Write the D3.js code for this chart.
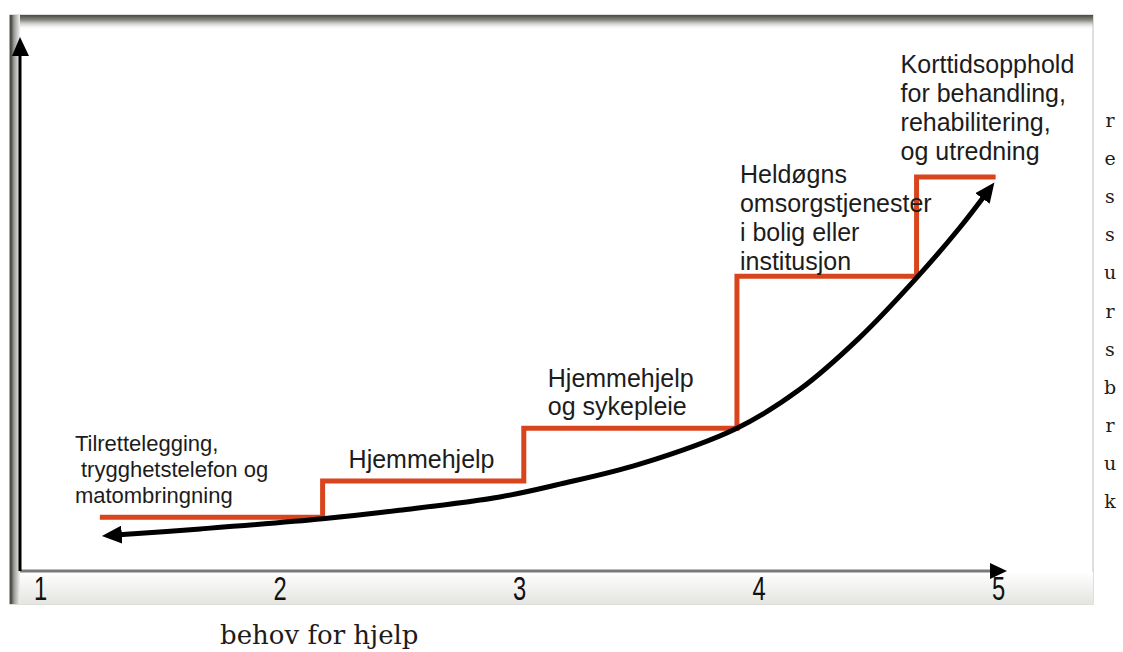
<!DOCTYPE html>
<html>
<head>
<meta charset="utf-8">
<script src="https://cdn.jsdelivr.net/npm/d3@7"></script>
<style>
  body { margin: 0; background: #ffffff; }
</style>
</head>
<body>
<div id="chart"></div>
<script>
const svgWidth = 1123;
const svgHeight = 652;
const sansFont = "'Liberation Sans', Arial, sans-serif";
const serifFont = "'DejaVu Serif', serif";

// tick labels on the "behov for hjelp" axis
const xTicks = [1, 2, 3, 4, 5];

// staircase: where each service level starts, and its resource level
const stepX = [1.25, 2.18, 3.02, 3.91, 4.66, 4.99];
const stepLevel = [10.1, 16.9, 26.8, 55.3, 73.9, 73.9];

// black need/resource curve
const curveX = [1.30, 1.67, 2.18, 2.50, 2.92, 3.17, 3.50, 3.91, 4.17, 4.42, 4.66, 4.84, 4.96];
const curveY = [6.7, 7.9, 9.8, 11.4, 13.9, 16.3, 20.0, 26.8, 34.0, 43.7, 55.0, 64.4, 71.4];

// service labels, one per step
const stepLabels = [
    ["Tilrettelegging,", " trygghetstelefon og", "matombringning"],
    ["Hjemmehjelp"],
    ["Hjemmehjelp", "og sykepleie"],
    ["Heldøgns", "omsorgstjenester", "i bolig eller", "institusjon"],
    ["Korttidsopphold", "for behandling,", "rehabilitering,", "og utredning"]
];
const xTitle = "behov for hjelp";
const yTitle = "ressursbruk";

// label layout (pixel offsets from the step start)
const labelDx = [-25, 26, 24, 3, -16];
const labelDy = [-14, -13, -13, -6, -17];
const labelSize = [22, 25, 25, 25, 25];
const labelLead = [26, 29, 28, 29, 29];

const xScale = d3.scaleLinear().domain([1, 5]).range([40, 998]);
const yScale = d3.scaleLinear().domain([0, 100]).range([571, 38]);

const svg = d3.select("#chart")
    .append("svg")
    .attr("width", svgWidth)
    .attr("height", svgHeight);

const defs = svg.append("defs");

function gradient(id, x2, y2, stops) {
    const g = defs.append("linearGradient")
        .attr("id", id)
        .attr("x1", 0).attr("y1", 0)
        .attr("x2", x2).attr("y2", y2);
    stops.forEach(s => g.append("stop")
        .attr("offset", s[0])
        .attr("stop-color", s[1])
        .attr("stop-opacity", s[2] === undefined ? 1 : s[2]));
}
gradient("topShade", 0, 1, [[0, "#4a4a42"], [0.35, "#8c8c86"], [1, "#ffffff", 0]]);
gradient("leftShade", 1, 0, [[0, "#d8d8d0"], [0.15, "#3c3c38"], [0.45, "#9a9a96"], [1, "#f2f2f2"]]);
gradient("bottomShade", 0, 1, [[0, "#ffffff"], [1, "#e4e4e0"]]);

// arrowheads
function arrow(id) {
    defs.append("marker")
        .attr("id", id)
        .attr("markerUnits", "userSpaceOnUse")
        .attr("viewBox", "0 0 20 18")
        .attr("refX", 10)
        .attr("refY", 9)
        .attr("markerWidth", 20)
        .attr("markerHeight", 18)
        .attr("orient", "auto-start-reverse")
        .append("path")
        .attr("d", "M0,0 L20,9 L0,18 Z")
        .attr("fill", "#000");
}
arrow("arrowHead");

// frame
svg.append("rect")
    .attr("x", 10).attr("y", 15)
    .attr("width", 1083).attr("height", 589)
    .attr("fill", "#fff")
    .attr("stroke", "#d4d4d0")
    .attr("stroke-width", 1.5);
svg.append("rect")
    .attr("x", 20).attr("y", 572)
    .attr("width", 1073).attr("height", 32)
    .attr("fill", "url(#bottomShade)");
svg.append("rect")
    .attr("x", 10).attr("y", 15)
    .attr("width", 1083).attr("height", 15)
    .attr("fill", "url(#topShade)");
svg.append("rect")
    .attr("x", 9).attr("y", 15)
    .attr("width", 11).attr("height", 589)
    .attr("fill", "url(#leftShade)");

// axes
const x0 = xScale.range()[0] - 20;
svg.append("line")
    .attr("x1", x0).attr("y1", yScale(0))
    .attr("x2", 995).attr("y2", yScale(0))
    .attr("stroke", "#7a7a7a")
    .attr("stroke-width", 3);
svg.append("path")
    .attr("d", `M990,${yScale(0) - 8} L1007,${yScale(0)} L990,${yScale(0) + 8} Z`)
    .attr("fill", "#000");
svg.append("line")
    .attr("x1", x0).attr("y1", yScale(0))
    .attr("x2", x0).attr("y2", yScale(100) + 16)
    .attr("stroke", "#000")
    .attr("stroke-width", 3);
svg.append("path")
    .attr("d", `M${x0 - 8},${yScale(100) + 18} L${x0},${yScale(100) - 1} L${x0 + 9},${yScale(100) + 18} Z`)
    .attr("fill", "#000");

const xAxis = d3.axisBottom(xScale)
    .tickValues(xTicks)
    .tickSize(0)
    .tickPadding(6)
    .tickFormat(d3.format("d"));
const xg = svg.append("g")
    .attr("transform", `translate(0, ${yScale(0)})`)
    .call(xAxis);
xg.select(".domain").remove();
xg.selectAll("text")
    .style("font-family", sansFont)
    .style("font-size", "33px")
    .attr("fill", "#111")
    .attr("transform", "scale(0.72,1)");

// staircase
const stepData = stepX.map((x, i) => ({ x: x, y: stepLevel[i] }));
svg.append("path")
    .datum(stepData)
    .attr("d", d3.line()
        .x(d => xScale(d.x))
        .y(d => yScale(d.y))
        .curve(d3.curveStepAfter))
    .attr("fill", "none")
    .attr("stroke", "#d8451c")
    .attr("stroke-width", 5)
    .attr("stroke-linejoin", "miter");

// curve
const curveData = curveX.map((x, i) => ({ x: x, y: curveY[i] }));
svg.append("path")
    .datum(curveData)
    .attr("d", d3.line()
        .x(d => xScale(d.x))
        .y(d => yScale(d.y))
        .curve(d3.curveCatmullRom))
    .attr("fill", "none")
    .attr("stroke", "#000")
    .attr("stroke-width", 5)
    .attr("marker-start", "url(#arrowHead)")
    .attr("marker-end", "url(#arrowHead)");

// labels
stepLabels.forEach((lines, i) => {
    const lx = xScale(stepX[i]) + labelDx[i];
    const ly = yScale(stepLevel[i]) + labelDy[i];
    const t = svg.append("text")
        .attr("x", lx)
        .attr("y", ly - (lines.length - 1) * labelLead[i])
        .style("font-family", sansFont)
        .style("font-size", labelSize[i] + "px")
        .style("white-space", "pre")
        .attr("fill", "#1c1c1c");
    lines.forEach((line, j) => {
        t.append("tspan")
            .attr("x", lx)
            .attr("dy", j === 0 ? 0 : labelLead[i])
            .text(line);
    });
});

// axis titles
svg.append("text")
    .attr("x", 220)
    .attr("y", 644)
    .style("font-family", serifFont)
    .style("font-size", "26px")
    .attr("fill", "#1c1c1c")
    .text(xTitle);

const letters = yTitle.split("");
const letterY = d3.scalePoint()
    .domain(d3.range(letters.length))
    .range([122, 503]);
svg.append("g")
    .selectAll("text")
    .data(letters)
    .enter()
    .append("text")
    .attr("x", 1110)
    .attr("y", (d, i) => letterY(i) + 5)
    .attr("text-anchor", "middle")
    .style("font-family", serifFont)
    .style("font-size", "19px")
    .attr("fill", "#1c1c1c")
    .text(d => d);
</script>
</body>
</html>
